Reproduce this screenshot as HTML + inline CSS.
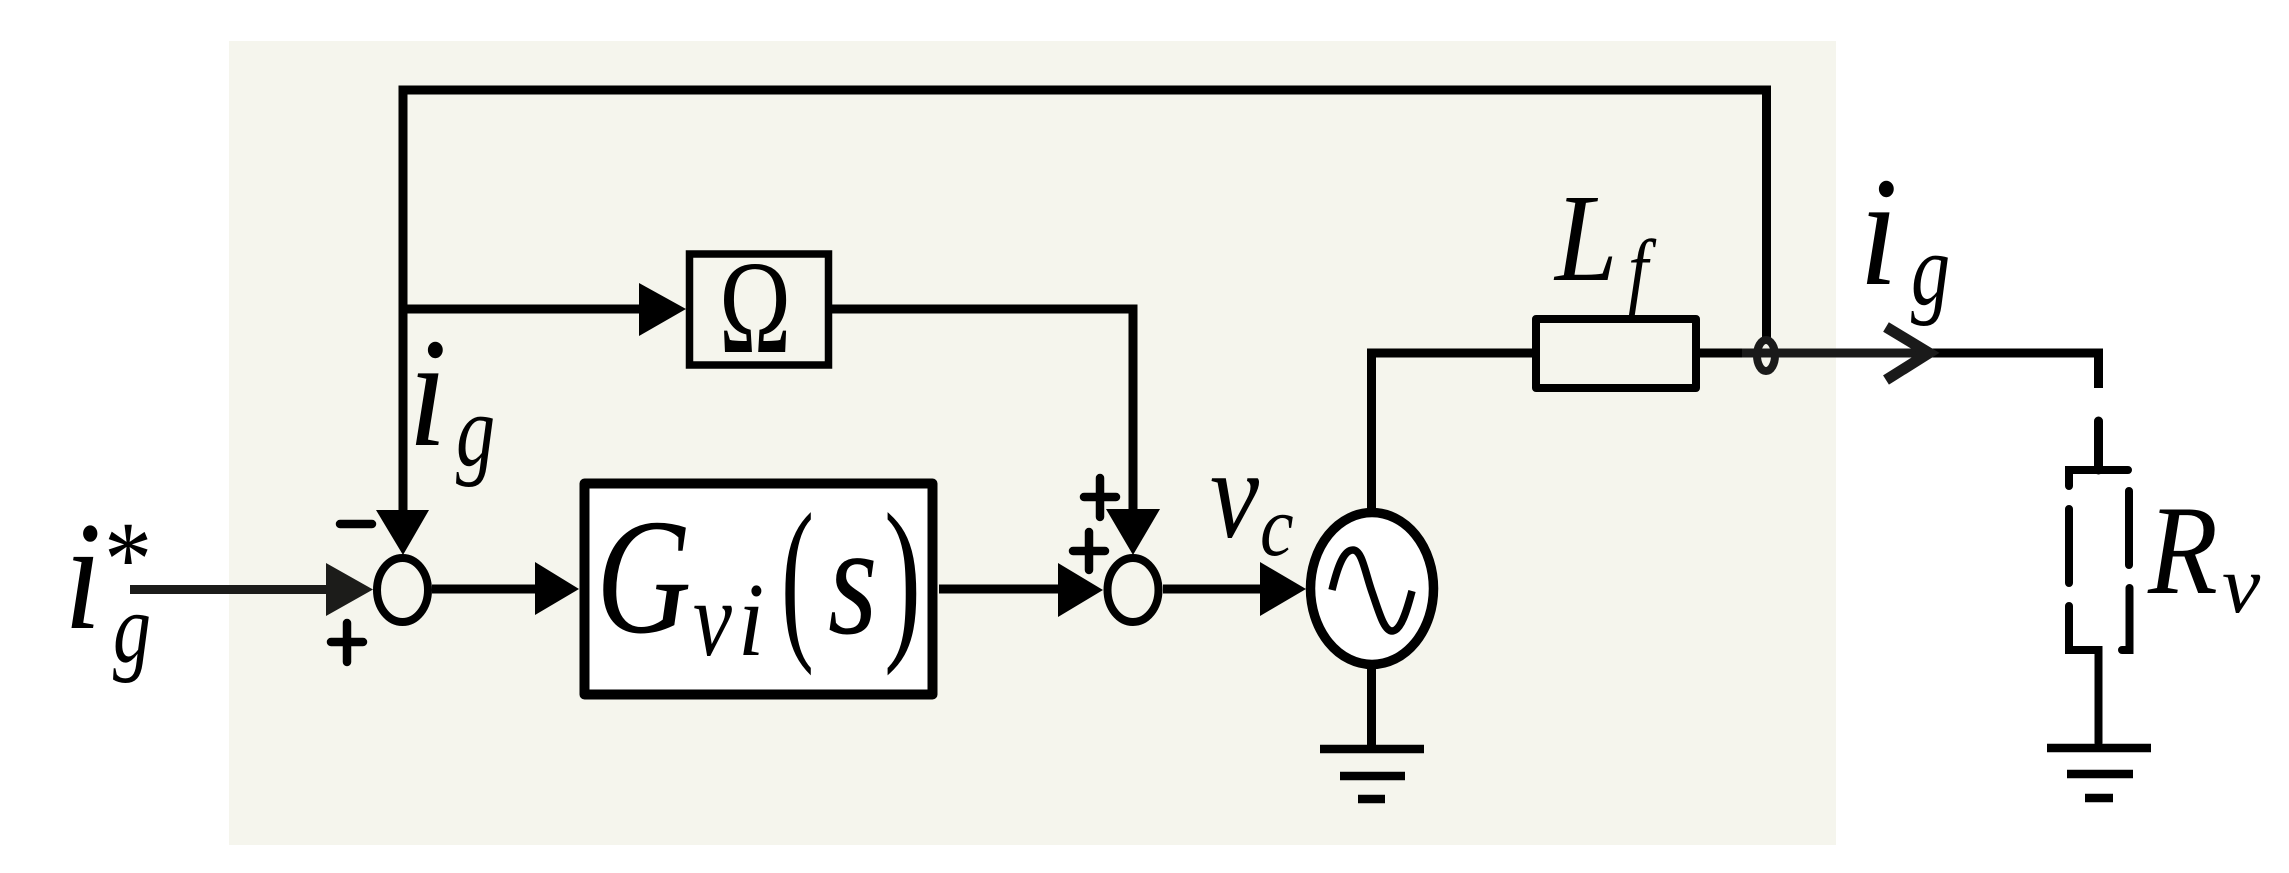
<!DOCTYPE html>
<html><head><meta charset="utf-8"><style>
html,body{margin:0;padding:0;background:#fff;width:2289px;height:873px;overflow:hidden}
svg{display:block}
text{font-family:"Liberation Serif","Times New Roman",Times,serif;font-style:italic;fill:#000}
text.r{font-style:normal}
</style></head><body>
<svg width="2289" height="873" viewBox="0 0 2289 873" xmlns="http://www.w3.org/2000/svg">
<rect width="2289" height="873" fill="#fff"/>
<rect x="229" y="41" width="1607" height="804" fill="#f5f5ed"/>
<g fill="none" stroke="#000" stroke-width="9">
<path d="M403 520V90H1766.5V340"/>
<path d="M403 309H645"/>
<rect x="689.5" y="254" width="139" height="111" stroke-width="7.5"/>
<path d="M829 309H1133V515"/>
<path d="M130 589.5H330" stroke="#1c1c1a"/>
<path d="M432 589H540"/>
<rect x="584.5" y="483.5" width="348" height="211" fill="#fff" stroke-width="10" stroke-linejoin="round"/>
<path d="M939 589H1060"/>
<path d="M1163 589H1265"/>
<ellipse cx="402.5" cy="590" rx="25.5" ry="32" stroke-width="8"/>
<ellipse cx="1133" cy="590" rx="25.5" ry="32" stroke-width="8"/>
<ellipse cx="1372" cy="588.5" rx="61.5" ry="76" fill="#fff" stroke-width="9.5"/>
<path d="M1332 590C1338 565 1344 550 1353 550C1362 550 1365 572 1372 592C1379 612 1384 631 1392 631C1401 631 1407 610 1412 591" stroke-width="7.5"/>
<path d="M1371.5 510V353H1536"/>
<rect x="1536" y="319" width="160" height="69" stroke-width="8" stroke-linejoin="round"/>
<path d="M1371.5 668V746"/>
<path d="M1320 749H1424M1340 776H1405M1358 799H1385" stroke-width="8.5"/>
<path d="M1699 353H1742"/>
<path d="M1742 353H1931" stroke="#1a1a1a"/>
<path d="M1931 353H2098.5V388"/>
<path d="M2098.5 421V470" stroke-linecap="round"/>
<path d="M2069 486V470H2128M2069 509V583M2069 606V650H2098.5V743M2122 650H2129.5V588M2129 565V491" stroke-width="8" stroke-linecap="round"/>
<path d="M2047 748H2151M2067 774H2133M2085 798H2113" stroke-width="8.5"/>
<ellipse cx="1766" cy="355.5" rx="9" ry="15.5" stroke="#1a1a1a" stroke-width="8"/>
<path d="M1886 327L1929 353L1886 380" stroke="#1a1a1a" stroke-width="11"/>
<path d="M340 524H372M331 642H363M347 623V662M1084 497H1116M1100 478V517M1073 551H1105M1089 532V570" stroke-linecap="round" stroke-width="8.5"/>
</g>
<g fill="#000">
<path d="M639 283L686 309L639 336Z"/>
<path d="M376 510H429L403 555Z"/>
<path d="M326 563L373 589.5L326 616Z" fill="#1c1c1a"/>
<path d="M535 562L579 589L535 615Z"/>
<path d="M1106 509H1160L1133 555Z"/>
<path d="M1058 563L1103 590L1058 617Z"/>
<path d="M1260 562L1306 589L1260 616Z"/>
</g>
<text class="r" font-size="133" transform="translate(719,352) scale(.73,1)">Ω</text>
<text font-size="165" transform="translate(596,632) scale(.8,1)">G</text>
<text font-size="107" transform="translate(693,655) scale(.82,1)">v</text>
<text font-size="105" transform="translate(738,655) scale(.9,1)">i</text>
<text class="r" font-size="180" transform="translate(781,637) scale(.55,1)">(</text>
<text font-size="159" transform="translate(828,633) scale(.8,1)">s</text>
<text class="r" font-size="180" transform="translate(884,637) scale(.62,1)">)</text>
<text font-size="156" transform="translate(408,445) scale(.9,1)">i</text>
<text font-size="103" transform="translate(456,465) scale(.76,1)">g</text>
<text font-size="155" transform="translate(64,628) scale(.87,1)">i</text>
<text class="r" font-size="107" transform="translate(104,595) scale(.9,1)">*</text>
<text font-size="100" transform="translate(113,662) scale(.76,1)">g</text>
<text font-size="156" transform="translate(1859,284) scale(.9,1)">i</text>
<text font-size="103" transform="translate(1911,304) scale(.76,1)">g</text>
<text font-size="125" transform="translate(1555,280) scale(.9,1)">L</text>
<text font-size="85" transform="translate(1628,298) scale(.85,1)">f</text>
<text font-size="127" transform="translate(1210,537) scale(.87,1)">v</text>
<text font-size="86" transform="translate(1260,555) scale(.88,1)">c</text>
<text font-size="127" transform="translate(2148,593) scale(.9,1)">R</text>
<text font-size="82" transform="translate(2222,612) scale(1.05,1)">v</text>
</svg>
</body></html>
